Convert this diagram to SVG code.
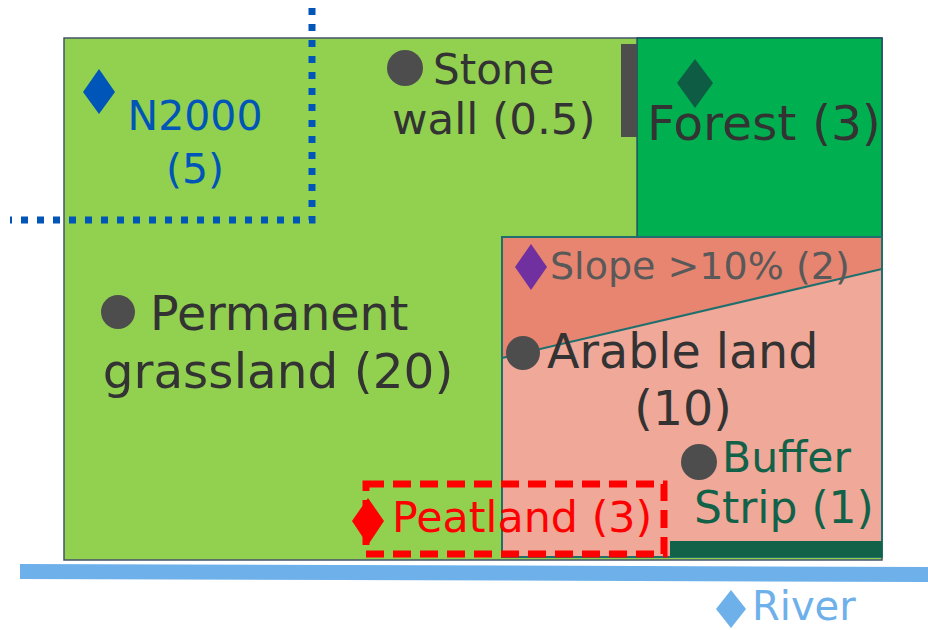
<svg xmlns="http://www.w3.org/2000/svg" width="928" height="630" viewBox="0 0 928 630">
<style>
text{font-family:"DejaVu Sans","Verdana",sans-serif;}
.dk{fill:#333333;}
.dot{fill:#4D4D4D;}
</style>
<rect width="928" height="630" fill="#ffffff"/>
<g id="grassland">
<rect x="64" y="38" width="818" height="522" fill="#92D050" stroke="#44546A" stroke-width="1.5"/>
<circle class="dot" cx="118" cy="312" r="17"/>
<text class="dk" x="150" y="330" font-size="47.5">Permanent</text>
<text class="dk" x="278" y="388" font-size="48.5" text-anchor="middle">grassland (20)</text>
</g>
<g id="forest">
<rect x="637" y="38" width="245" height="199" fill="#00B050" stroke="#1F3864" stroke-width="1.2"/>
<polygon points="695,59 713,83 695,108 677,83" fill="#0F5C45"/>
<text class="dk" x="647" y="140" font-size="48.7">Forest (3)</text>
</g>
<g id="stonewall">
<rect x="621" y="44" width="16" height="93" fill="#4D4D4D"/>
<circle class="dot" cx="405" cy="68" r="18"/>
<text class="dk" x="433" y="84" font-size="42">Stone</text>
<text class="dk" x="392" y="134" font-size="43.5">wall (0.5)</text>
</g>
<g id="arable">
<rect x="502" y="237" width="380" height="320" fill="#F0A898" stroke="#1F6F6F" stroke-width="2"/>
<g id="slope">
<polygon points="502,237 882,237 882,269 502,358" fill="#E88570" stroke="#1F6F6F" stroke-width="2"/>
<polygon points="531,244 547,267 531,290 515,267" fill="#7030A0"/>
<text x="550" y="279" font-size="38" fill="#595959">Slope &gt;10% (2)</text>
</g>
<circle class="dot" cx="523" cy="353" r="17"/>
<text class="dk" x="547" y="368" font-size="47.5">Arable land</text>
<text class="dk" x="683" y="425" font-size="47.5" text-anchor="middle">(10)</text>
</g>
<g id="buffer">
<rect x="670" y="541" width="212" height="16" fill="#126149"/>
<circle class="dot" cx="699" cy="462" r="18"/>
<text x="722" y="472" font-size="42.5" fill="#126149">Buffer</text>
<text x="694" y="523" font-size="44" fill="#126149">Strip (1)</text>
</g>
<g id="peatland">
<rect x="366" y="484" width="298" height="70" fill="none" stroke="#FF0000" stroke-width="7" stroke-dasharray="18 9"/>
<polygon points="368,498 384,521 368,545 352,521" fill="#FF0000"/>
<text x="392" y="532" font-size="42.8" fill="#FF0000">Peatland (3)</text>
</g>
<g id="n2000">
<path d="M312,8 V220 H10" fill="none" stroke="#0055B8" stroke-width="7" stroke-dasharray="7 9"/>
<polygon points="99,69 115,92 99,114 83,92" fill="#0055B8"/>
<text x="195" y="130" font-size="41" fill="#0055B8" text-anchor="middle">N2000</text>
<text x="195" y="183" font-size="41" fill="#0055B8" text-anchor="middle">(5)</text>
</g>
<g id="river">
<polygon points="20,564 928,567 928,582 20,579" fill="#6DB0EA"/>
<polygon points="731,590 746,609 731,628 716,609" fill="#6DB0EA"/>
<text x="752" y="620" font-size="40" fill="#6DB0EA">River</text>
</g>
<g id="connectors"></g>
</svg>
